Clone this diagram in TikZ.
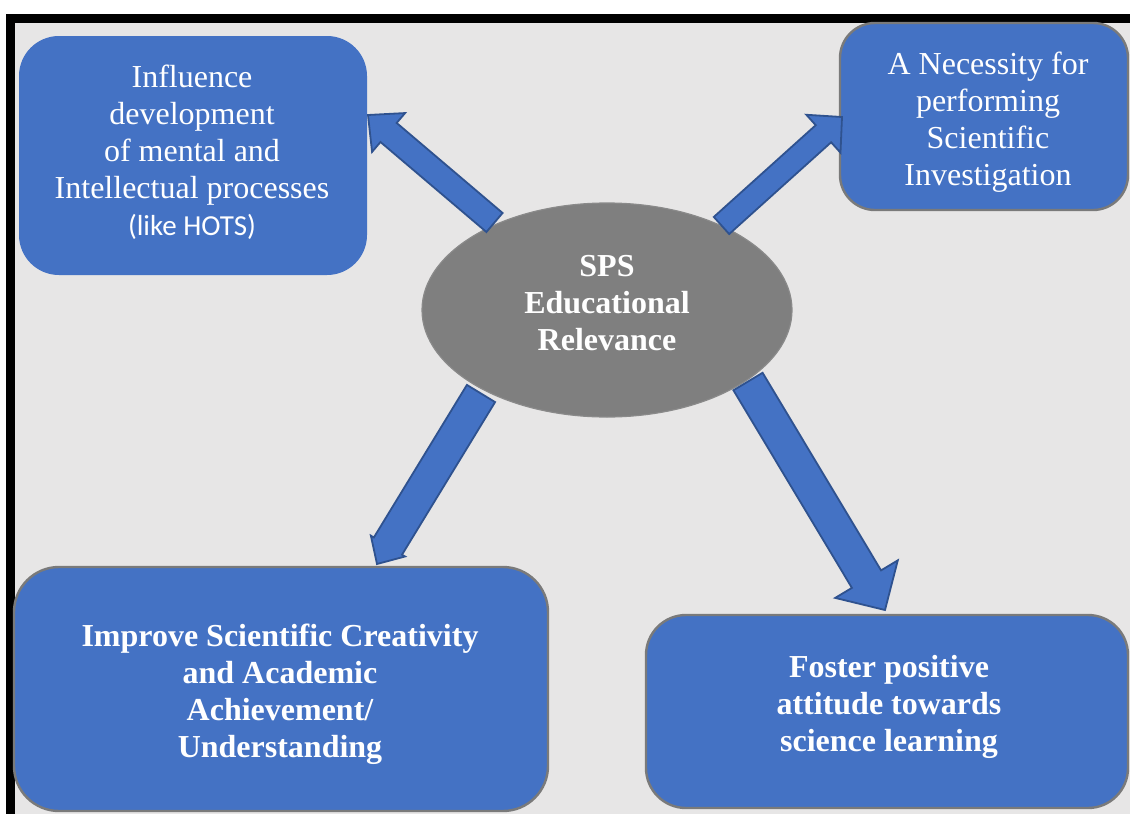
\documentclass[tikz,border=0pt]{standalone}
\usepackage{fontspec}
\setmainfont{Liberation Serif}
\newfontfamily\calibrifont{Carlito}
\usetikzlibrary{calc,shapes.geometric}

\definecolor{panelgray}{HTML}{E7E6E6}
\definecolor{boxblue}{HTML}{4472C4}
\definecolor{arrowedge}{HTML}{2F528F}
\definecolor{boxedge}{HTML}{7A7A7A}
\definecolor{hubgray}{HTML}{7F7F7F}
\definecolor{hubedge}{HTML}{8A8A8A}

% block arrow: tail, tip, half shaft width, half head width, head length
\newcommand\blockarrow[5]{%
  \path (#1) coordinate (ba-t) (#2) coordinate (ba-p);
  \path ($(ba-p)!#5!(ba-t)$) coordinate (ba-h);
  \draw[fatarrow]
    ($(ba-t)!#3!90:(ba-p)$) -- ($(ba-h)!#3!-90:(ba-t)$) --
    ($(ba-h)!#4!-90:(ba-t)$) -- (ba-p) --
    ($(ba-h)!#4!90:(ba-t)$) -- ($(ba-h)!#3!90:(ba-t)$) --
    ($(ba-t)!#3!-90:(ba-p)$) -- cycle;
}

\begin{document}
\begin{tikzpicture}[x=1pt,y=-1pt,
  card/.style={rectangle, fill=boxblue, draw=boxedge, line width=2.4pt, inner sep=0pt},
  hub/.style={ellipse, fill=hubgray, draw=hubedge, line width=1.2pt, inner sep=0pt,
    minimum width=370pt, minimum height=214pt},
  label/.style={text=white, align=center, inner sep=0pt,
    font=\fontsize{32}{37}\selectfont},
  boldlabel/.style={label, font=\fontsize{32}{37}\selectfont\bfseries},
  fatarrow/.style={fill=boxblue, draw=arrowedge, line width=1.8pt, line join=miter}]

% page, frame and panel
\useasboundingbox (0,0) rectangle (1130,814);
\fill[white] (0,0) rectangle (1130,814);
\fill[black] (6,14) rectangle (1130,814);
\fill[panelgray] (15,22.7) rectangle (1130,814);

% outer cards
\node[card, draw=none, rounded corners=40pt, minimum width=348pt, minimum height=239pt] (b1) at (193,155.5) {};
\node[card, rounded corners=35pt, minimum width=288pt, minimum height=187pt] (b2) at (984,116.5) {};
\node[card, rounded corners=45pt, minimum width=534pt, minimum height=244pt] (b3) at (281,689) {};
\node[card, rounded corners=40pt, minimum width=482pt, minimum height=193pt] (b4) at (887,711.5) {};

% card texts
\node[label] (t1) at (192,152) {Influence\\development\\of mental and\\Intellectual processes\\{\calibrifont\fontsize{29}{36}\selectfont (like HOTS)}};
\node[label] (t2) at (988,122) {A Necessity for\\performing\\Scientific\\Investigation};
\node[boldlabel] (t3) at (280,694) {Improve Scientific Creativity\\and Academic\\Achievement/\\Understanding};
\node[boldlabel] (t4) at (889,706.5) {Foster positive\\attitude towards\\science learning};

% central hub
\node[hub] (c) at (607,310) {};
\node[boldlabel] (ct) at (607,303.5) {SPS\\Educational\\Relevance};

% arrow ends
\coordinate (a1-tail) at (494.5,222.5);
\coordinate (a1-tip)  at (368,115);
\coordinate (a2-tail) at (721.5,225.5);
\coordinate (a2-tip)  at (842,117);
\coordinate (a3-tail) at (481,393.5);
\coordinate (a3-tip)  at (377,564);
\coordinate (a4-tail) at (748,381.5);
\coordinate (a4-tip)  at (885,610);

% arrows from the hub to the cards
\blockarrow{a1-tail}{a1-tip}{12.5pt}{25.5pt}{27pt}
\blockarrow{a2-tail}{a2-tip}{11.5pt}{25.5pt}{25pt}
\blockarrow{a3-tail}{a3-tip}{16.5pt}{20pt}{21pt}
\blockarrow{a4-tail}{a4-tip}{17pt}{36.5pt}{36pt}

\end{tikzpicture}
\end{document}
